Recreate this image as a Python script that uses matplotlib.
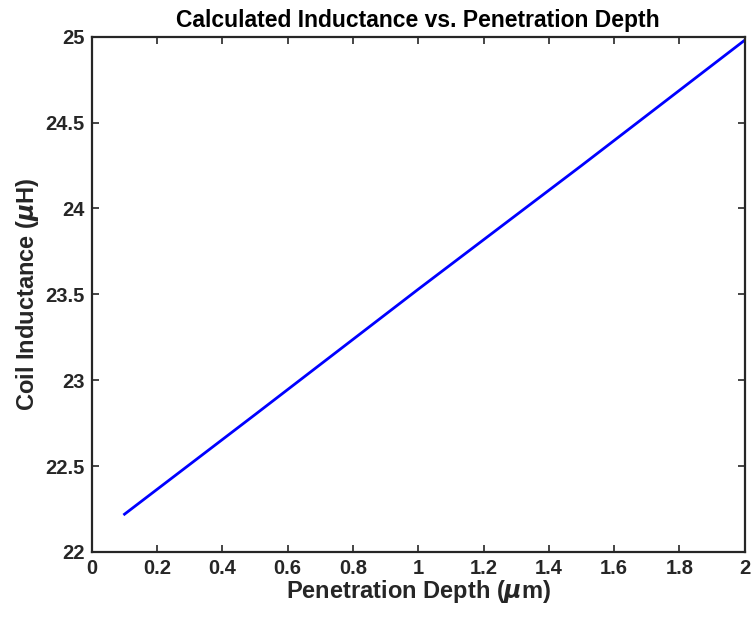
import matplotlib
matplotlib.use('Agg')
from matplotlib import pyplot as plt

# data
depth_um = [0.1, 0.5, 1.0, 1.5, 2.0]
inductance_uH = [22.22, 22.80, 23.53, 24.25, 24.98]

x_ticks = [0, 0.2, 0.4, 0.6, 0.8, 1, 1.2, 1.4, 1.6, 1.8, 2]
x_tick_labels = ['0', '0.2', '0.4', '0.6', '0.8', '1', '1.2', '1.4', '1.6', '1.8', '2']
y_ticks = [22, 22.5, 23, 23.5, 24, 24.5, 25]
y_tick_labels = ['22', '22.5', '23', '23.5', '24', '24.5', '25']


def main():
    plt.rcParams['font.family'] = ['Liberation Sans', 'DejaVu Sans']
    plt.rcParams['font.weight'] = 'bold'
    plt.rcParams['mathtext.fontset'] = 'dejavusans'

    fig = plt.figure(figsize=(7.53, 6.23), dpi=100)
    ax = fig.add_axes([0.122, 0.114, 0.867, 0.827])
    ax.plot(depth_um, inductance_uH, color='#0000ff', lw=2)

    ax.set_xlim(0, 2)
    ax.set_ylim(22, 25)
    ax.set_xticks(x_ticks)
    ax.set_xticklabels(x_tick_labels)
    ax.set_yticks(y_ticks)
    ax.set_yticklabels(y_tick_labels)

    axis_color = '#262626'
    for side in ax.spines.values():
        side.set_linewidth(1.6)
        side.set_color(axis_color)
    ax.tick_params(direction='in', length=5, width=1.2, top=True, right=True,
                   labelsize=14.5, colors=axis_color, pad=5)
    for lab in ax.get_xticklabels() + ax.get_yticklabels():
        lab.set_fontweight('bold')

    ax.set_xlabel(r'Penetration Depth ($\mu$m)', fontsize=17, fontweight='bold',
                  color=axis_color, labelpad=0)
    ax.set_ylabel(r'Coil Inductance ($\mu$H)', fontsize=17, fontweight='bold',
                  color=axis_color, labelpad=3)
    ax.set_title('Calculated Inductance vs. Penetration Depth', fontsize=16.5,
                 fontweight='bold', color='black', pad=7)

    fig.savefig('out.png', dpi=100)


if __name__ == '__main__':
    main()
